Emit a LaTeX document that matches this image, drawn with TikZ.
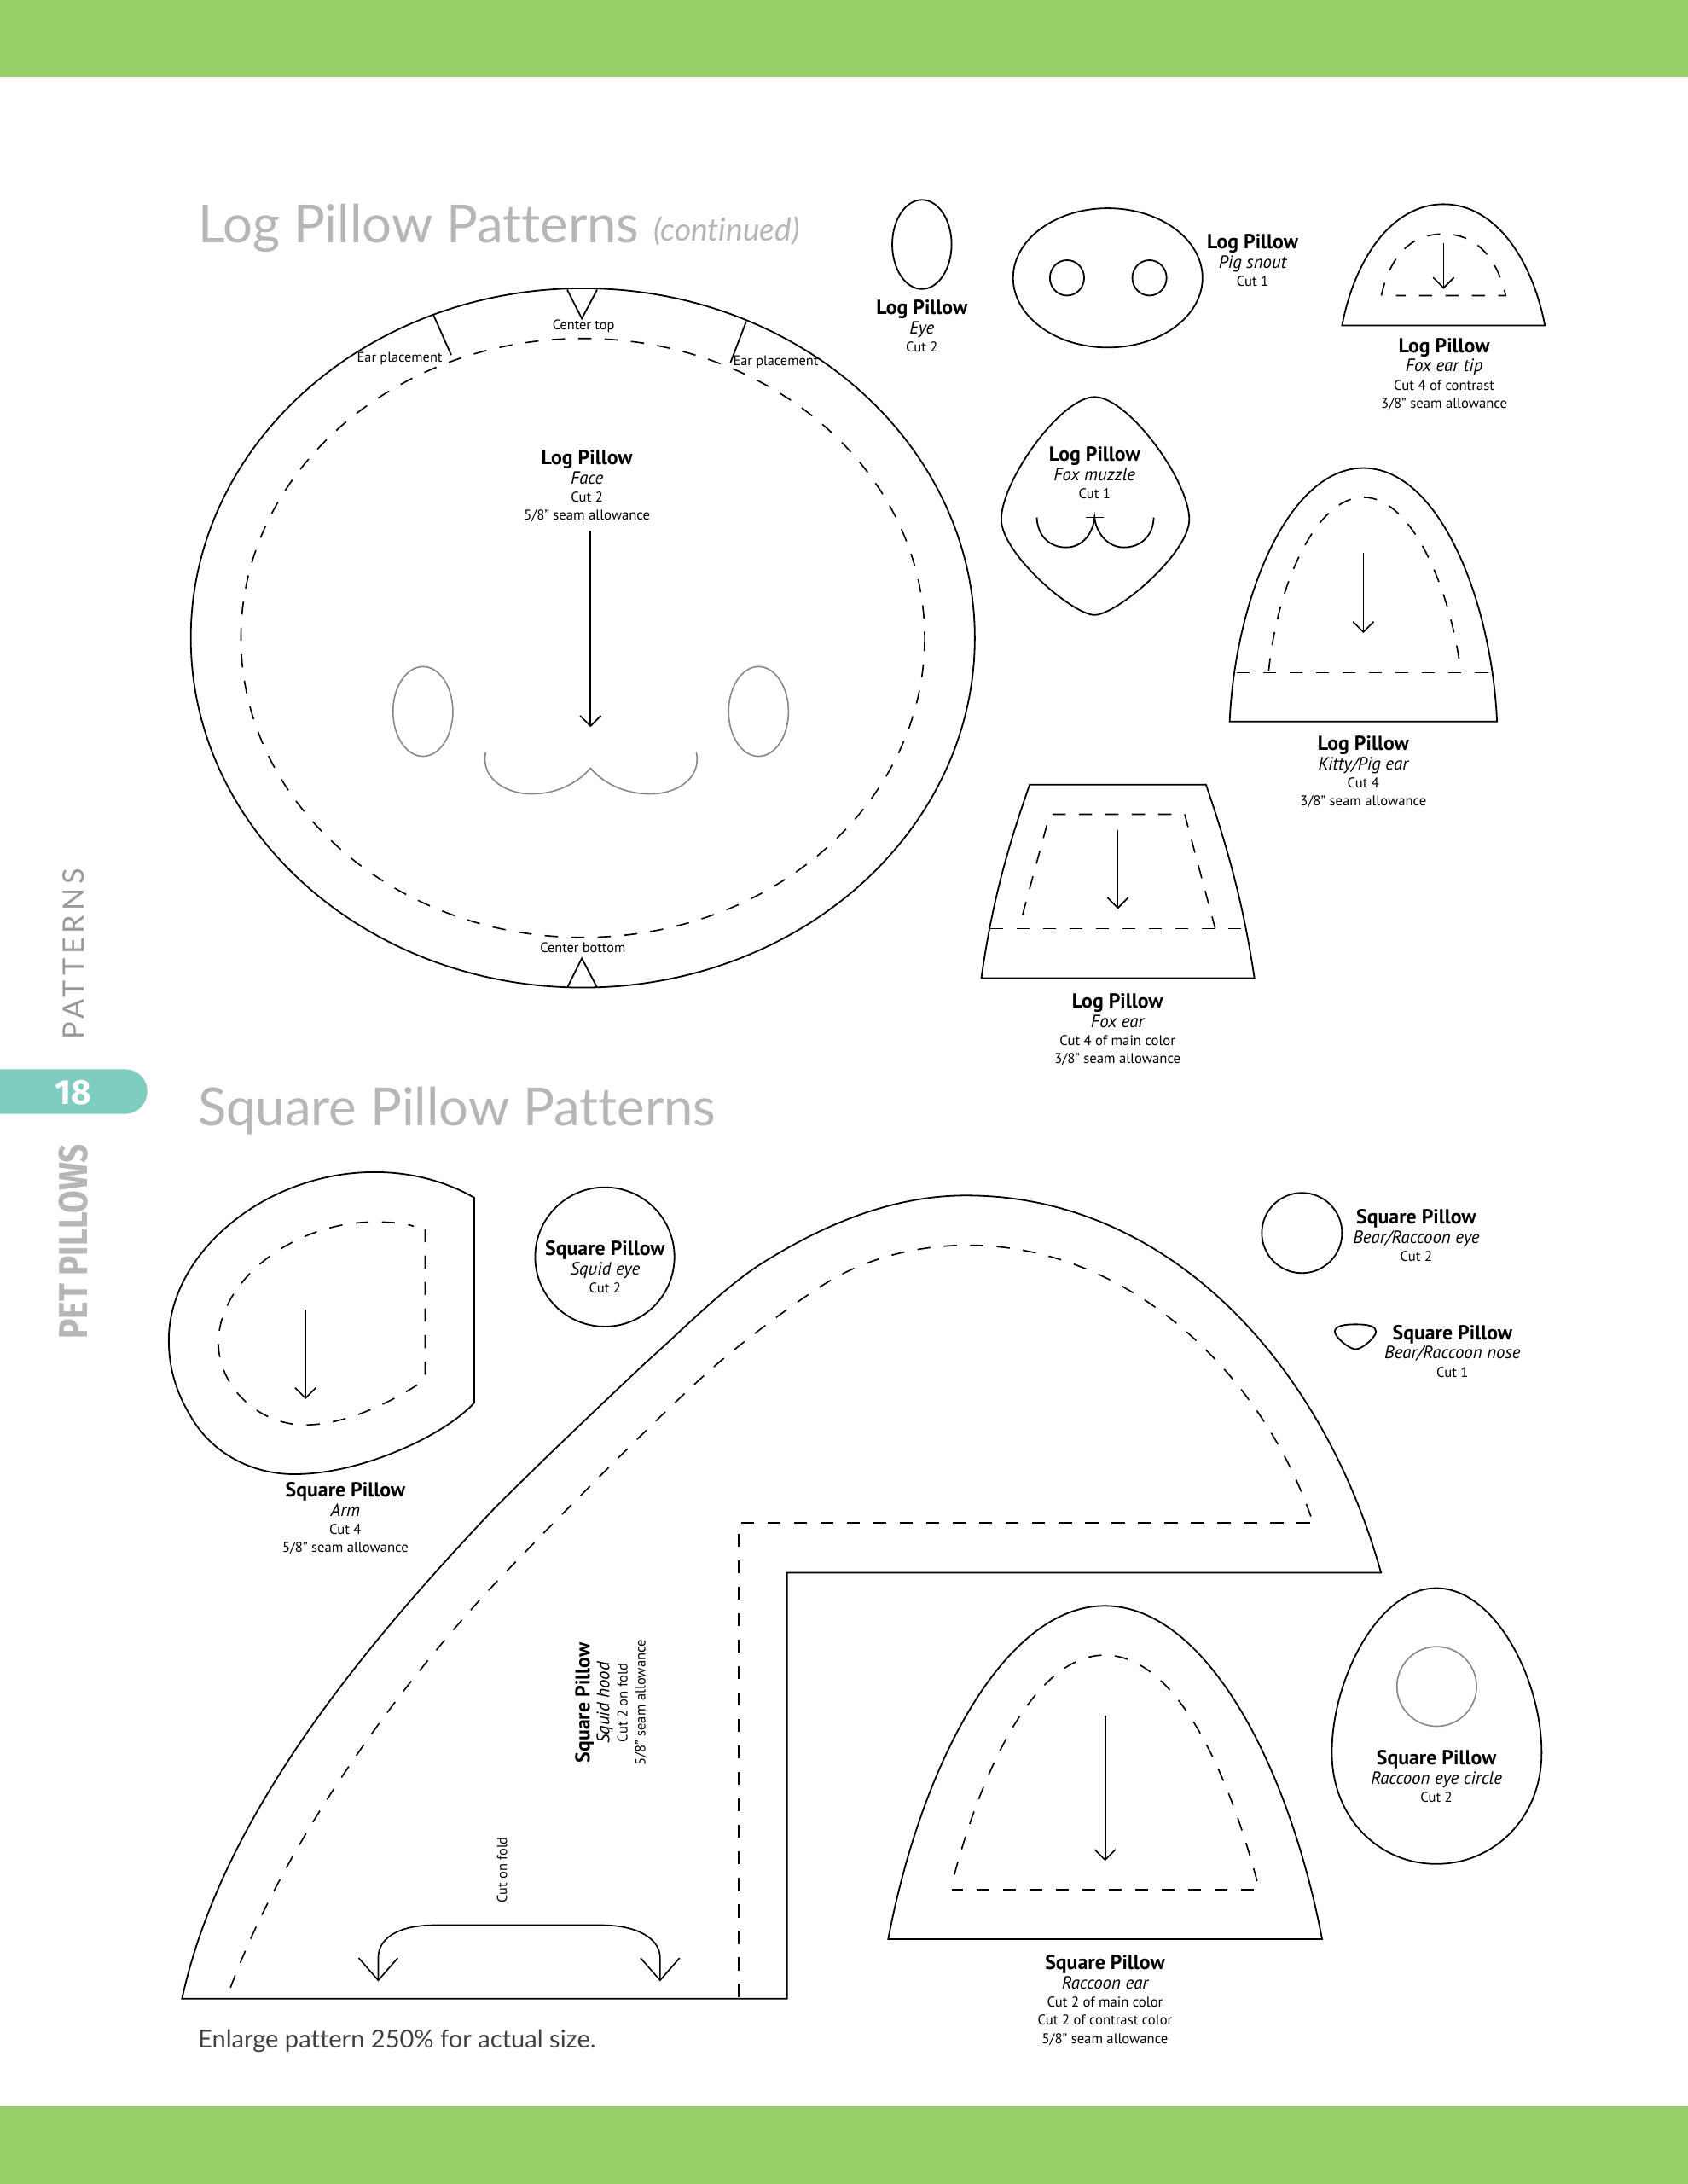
\documentclass[tikz,border=0pt]{standalone}
\usepackage{fontspec}
\setmainfont{PT Sans}
\newfontfamily\headfont[Ligatures=NoCommon]{Lato}
\newfontfamily\sidefont{Fira Sans}
\usetikzlibrary{arrows.meta}
\definecolor{bandgreen}{RGB}{150,206,103}
\definecolor{tabteal}{RGB}{127,205,193}
\definecolor{headgrey}{RGB}{181,182,184}
\definecolor{sidegrey}{RGB}{151,153,155}
\definecolor{facegrey}{RGB}{136,136,136}
\newcommand{\ptitle}[1]{{\fontsize{14.6}{16}\bfseries\selectfont #1}}
\newcommand{\ptype}[1]{{\fontsize{12.8}{14}\itshape\selectfont #1}}
\tikzset{
  cutline/.style={draw=black, line width=1.1pt},
  sewline/.style={draw=black, line width=1pt, dash pattern=on 9.5pt off 9.5pt},
  grainline/.style={draw=black, line width=1pt, -{Straight Barb[length=7.5pt,width=15pt]}},
  foldline/.style={draw=black, line width=1pt, {Straight Barb[length=16pt,width=28pt]}-{Straight Barb[length=16pt,width=28pt]}},
  greyline/.style={draw=facegrey, line width=1pt},
  partlabel/.style={align=center, inner sep=0pt, font=\fontsize{10.2}{13}\selectfont},
  marklabel/.style={inner sep=0pt, font=\fontsize{10}{12}\selectfont},
  headlabel/.style={anchor=base west, inner sep=0pt, text=headgrey, font=\fontsize{37.7}{40}\headfont}
}
\begin{document}
\begin{tikzpicture}[x=1pt,y=-1pt]
\useasboundingbox (0,0) rectangle (1212,1568);
\fill[bandgreen] (0,0) rectangle (1212,55);
\fill[bandgreen] (0,1512) rectangle (1212,1568);
\fill[tabteal] (0,767.7) -- (90,767.7) .. controls (99,767.7) and (105.8,775) .. (105.8,783.7) .. controls (105.8,792) and (99,799.7) .. (90,799.7) -- (0,799.7) -- cycle;
\node[inner sep=0pt, text=white, font=\fontsize{25}{27}\sidefont\bfseries] (PageNo) at (52.5,784.5) {18};
\node[inner sep=0pt, rotate=90, text=sidegrey, font=\fontsize{21}{24}\headfont\addfontfeature{LetterSpace=14}] (SideTop) at (52.7,685) {PATTERNS};
\node[inner sep=0pt, rotate=90, xscale=0.82, text=headgrey, font=\fontsize{29}{32}\sidefont\bfseries] (SideBook) at (53,891.3) {PET PILLOWS};

\node[headlabel] (LogHead) at (142,174) {Log Pillow Patterns};
\node[headlabel, font=\fontsize{22.7}{24}\headfont\itshape] (LogCont) at (469,173) {(continued)};
\node[headlabel] (SquareHead) at (142,808) {Square Pillow Patterns};
\node[anchor=base west, inner sep=0pt, text=black!75, font=\fontsize{17.8}{20}\headfont] (EnlargeNote) at (142,1470) {Enlarge pattern 250\% for actual size.};

\draw[cutline] (418.5,458) ellipse [x radius=281.5, y radius=251];
\draw[sewline] (418.5,458) ellipse [x radius=245.5, y radius=215];
\draw[cutline] (407.3,208) -- (417.8,228.7) -- (428.8,208);
\draw[cutline] (407.3,709) -- (417.8,688) -- (428.8,709);
\draw[cutline] (311.2,226) -- (324,254.9);
\draw[cutline] (535.9,230.7) -- (524.5,260.4);
\node[marklabel] (CenterTop) at (419,234) {Center top};
\node[marklabel] (CenterBottom) at (418.5,680.5) {Center bottom};
\node[marklabel] (EarLeft) at (287,257.5) {Ear placement};
\node[marklabel] (EarRight) at (557,260) {Ear placement};
\node[partlabel] (FaceLabel) at (421.5,349) {\ptitle{Log Pillow}\\[1pt]\ptype{Face}\\Cut 2\\5/8" seam allowance};
\coordinate (FaceGrainTop) at (424,381);
\coordinate (FaceGrainEnd) at (424,522);
\draw[grainline] (FaceGrainTop) -- (FaceGrainEnd);
\draw[greyline] (303.7,510.8) ellipse [x radius=21.5, y radius=32.2];
\draw[greyline] (544.7,510.8) ellipse [x radius=21.5, y radius=32.2];
\draw[greyline] (348.7,540) .. controls (345,558) and (362,570) .. (382,570) .. controls (400,570) and (415,562) .. (424,551.5) .. controls (433,562) and (448,570) .. (467,570) .. controls (487,570) and (504,558) .. (500,540);

\draw[cutline] (662,175.5) ellipse [x radius=21.3, y radius=32];
\node[partlabel] (EyeLabel) at (662,234) {\ptitle{Log Pillow}\\[1pt]\ptype{Eye}\\Cut 2};

\draw[cutline] (795.5,199.5) ellipse [x radius=68, y radius=50];
\draw[cutline] (766.2,199.5) ellipse [x radius=12.3, y radius=12.7];
\draw[cutline] (825.4,199.5) ellipse [x radius=12.3, y radius=12.7];
\node[partlabel] (SnoutLabel) at (899.5,187) {\ptitle{Log Pillow}\\[1pt]\ptype{Pig snout}\\Cut 1};

\draw[cutline] (963.7,233.7) .. controls (973,185) and (1000,146.6) .. (1036.6,146.6) .. controls (1073,146.6) and (1100,185) .. (1109.4,233.7) -- cycle;
\draw[sewline] (991.9,212.2) .. controls (998,185) and (1012,168) .. (1036.6,168) .. controls (1060,168) and (1075,185) .. (1081.2,212.2) -- (1002.4,212.2);
\coordinate (TipGrainTop) at (1036.6,174.6);
\coordinate (TipGrainEnd) at (1036.6,207.4);
\draw[grainline] (TipGrainTop) -- (TipGrainEnd);
\node[partlabel] (TipLabel) at (1037,268.5) {\ptitle{Log Pillow}\\[1pt]\ptype{Fox ear tip}\\Cut 4 of contrast\\3/8" seam allowance};

\draw[cutline] (786,285) .. controls (762,285) and (719,345) .. (719,373) .. controls (719,397) and (770,441.5) .. (786,441.5) .. controls (802,441.5) and (854,397) .. (854,373) .. controls (854,345) and (810,285) .. (786,285) -- cycle;
\draw[cutline] (744.5,371.5) .. controls (745,385) and (754,393) .. (765.5,393) .. controls (778,393) and (785,382) .. (786,371.5) .. controls (787,382) and (795,393) .. (807,393) .. controls (819,393) and (828,385) .. (828.5,371.5);
\draw[cutline] (780,371.5) -- (792.8,371.5);
\node[partlabel] (MuzzleLabel) at (786,339.5) {\ptitle{Log Pillow}\\[1pt]\ptype{Fox muzzle}\\Cut 1};

\draw[cutline] (883,518) .. controls (887,430) and (925,336) .. (979,336) .. controls (1033,336) and (1071,430) .. (1075,518) -- cycle;
\draw[sewline] (911,482) .. controls (917,420) and (945,357) .. (979,357) .. controls (1013,357) and (1041,420) .. (1049,482);
\draw[sewline] (888,483) -- (1070,483);
\coordinate (KittyGrainTop) at (979,396.7);
\coordinate (KittyGrainEnd) at (979,454.5);
\draw[grainline] (KittyGrainTop) -- (KittyGrainEnd);
\node[partlabel] (KittyLabel) at (979,554) {\ptitle{Log Pillow}\\[1pt]\ptype{Kitty/Pig ear}\\Cut 4\\3/8" seam allowance};

\draw[cutline] (739.4,563.3) -- (866,563.3) .. controls (882,610) and (893,650) .. (900.8,702.2) -- (704.7,702.2) .. controls (712,650) and (723,610) .. (739.4,563.3) -- cycle;
\draw[sewline] (734.3,656.7) -- (751.7,592.4);
\draw[sewline] (755.7,584.6) -- (850.7,584.6) -- (872.6,666.5);
\draw[sewline] (710.8,666.7) -- (892.2,666.7);
\coordinate (FoxGrainTop) at (802.7,595.8);
\coordinate (FoxGrainEnd) at (802.7,652.6);
\draw[grainline] (FoxGrainTop) -- (FoxGrainEnd);
\node[partlabel] (FoxLabel) at (802.5,739) {\ptitle{Log Pillow}\\[1pt]\ptype{Fox ear}\\Cut 4 of main color\\3/8" seam allowance};

\draw[cutline] (340.6,859.9) .. controls (320,848) and (295,841.5) .. (269,841.5) .. controls (190,841.5) and (121.2,900) .. (121.2,962) .. controls (121.2,985) and (128,1002) .. (137,1017) .. controls (152,1043) and (180,1058.4) .. (211.5,1058.4) .. controls (260,1058.4) and (320,1030) .. (340.6,1007) -- cycle;
\draw[sewline] (305.3,882.4) -- (305.3,988) (299.6,994.3) .. controls (275,1010) and (245,1023) .. (219,1023) .. controls (185,1023) and (156.8,995) .. (156.8,964) .. controls (156.8,920) and (210,877.3) .. (269,877.3) .. controls (280,877.3) and (290,878) .. (297,880.3);
\coordinate (ArmGrainTop) at (219.4,940.2);
\coordinate (ArmGrainEnd) at (219.4,1004.5);
\draw[grainline] (ArmGrainTop) -- (ArmGrainEnd);
\node[partlabel] (ArmLabel) at (248,1090) {\ptitle{Square Pillow}\\[1pt]\ptype{Arm}\\Cut 4\\5/8" seam allowance};

\draw[cutline] (434.3,902.4) circle (50);
\node[partlabel] (SquidEyeLabel) at (434.5,909.5) {\ptitle{Square Pillow}\\[1pt]\ptype{Squid eye}\\Cut 2};

\draw[cutline] (991.7,1129.1) .. controls (950,980) and (840,858.3) .. (693.6,858.3) .. controls (640,858.3) and (590,880) .. (547.4,906.8) .. controls (520,924) and (490,955) .. (463.6,978.3) .. controls (430,1010) and (390,1048) .. (355.4,1082.5) .. controls (268,1175) and (160,1300) .. (130.7,1434.9) -- (565.2,1434.9) -- (565.2,1129.1) -- cycle;
\draw[sewline] (941.3,1088.7) .. controls (905,985) and (810,894) .. (695.2,894) .. controls (655,894) and (620,905) .. (595,920.1) .. controls (575,932) and (530,965) .. (504.5,988.5) .. controls (470,1020) and (410,1080) .. (362.5,1129.4) .. controls (290,1205) and (205,1320) .. (164.9,1428.6);
\draw[sewline] (940.6,1093.4) -- (530.3,1093.4) -- (530.3,1434.9);
\coordinate (FoldLeft) at (271.6,1422.5);
\coordinate (FoldRight) at (474,1422.5);
\draw[foldline] (FoldLeft) -- (271.6,1405.6) .. controls (271.6,1392) and (285,1382.1) .. (312.6,1382.1) -- (431.6,1382.1) .. controls (458,1382.1) and (474,1392) .. (474,1405.6) -- (FoldRight);
\node[marklabel, rotate=90] (FoldLabel) at (360.5,1342.5) {Cut on fold};
\node[partlabel, rotate=90] (HoodLabel) at (439,1222.5) {\ptitle{Square Pillow}\\[1pt]\ptype{Squid hood}\\Cut 2 on fold\\5/8" seam allowance};

\draw[cutline] (934.9,885.2) circle (28.8);
\node[partlabel] (BearEyeLabel) at (1017,887) {\ptitle{Square Pillow}\\[1pt]\ptype{Bear/Raccoon eye}\\Cut 2};
\draw[cutline] (973.5,950.8) .. controls (965,950.8) and (958.5,952) .. (958.5,956) .. controls (958.5,960) and (969,968.7) .. (973.5,968.7) .. controls (978,968.7) and (988.1,960) .. (988.1,956) .. controls (988.1,952) and (982,950.8) .. (973.5,950.8) -- cycle;
\node[partlabel] (NoseLabel) at (1043,970) {\ptitle{Square Pillow}\\[1pt]\ptype{Bear/Raccoon nose}\\Cut 1};

\draw[cutline] (637.8,1392.2) .. controls (662,1265) and (722,1152.9) .. (793.3,1152.9) .. controls (865,1152.9) and (925,1265) .. (949.4,1392.2) -- cycle;
\draw[sewline] (685.3,1345.9) .. controls (707,1265) and (745,1188.3) .. (793.3,1188.3) .. controls (842,1188.3) and (880,1265) .. (902.9,1351.3);
\draw[sewline] (900.6,1356.8) -- (683.3,1356.8);
\coordinate (RaccoonGrainTop) at (793.6,1231.6);
\coordinate (RaccoonGrainEnd) at (793.6,1336);
\draw[grainline] (RaccoonGrainTop) -- (RaccoonGrainEnd);
\node[partlabel] (RaccoonLabel) at (793.5,1436) {\ptitle{Square Pillow}\\[1pt]\ptype{Raccoon ear}\\Cut 2 of main color\\Cut 2 of contrast color\\5/8" seam allowance};

\draw[cutline] (1031.4,1140.2) .. controls (990,1140.2) and (956.4,1205) .. (956.4,1258.3) .. controls (956.4,1305) and (990,1338.2) .. (1031.4,1338.2) .. controls (1073,1338.2) and (1107,1305) .. (1107,1258.3) .. controls (1107,1205) and (1073,1140.2) .. (1031.4,1140.2) -- cycle;
\draw[greyline] (1031.7,1210.8) circle (28.6);
\node[partlabel] (EggLabel) at (1031.5,1275.5) {\ptitle{Square Pillow}\\[1pt]\ptype{Raccoon eye circle}\\Cut 2};
\end{tikzpicture}
\end{document}
